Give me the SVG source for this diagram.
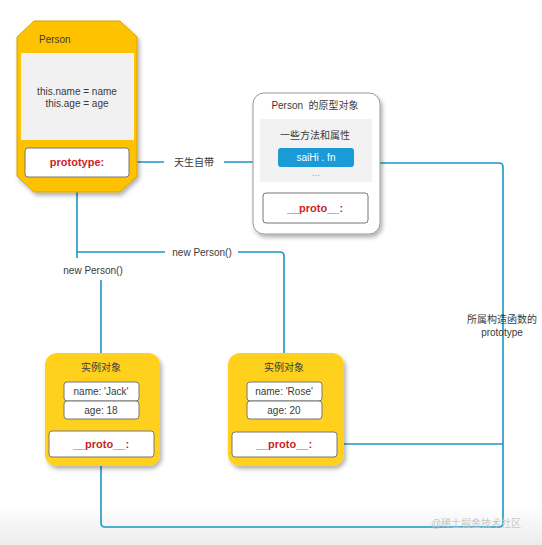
<svg xmlns="http://www.w3.org/2000/svg" width="542" height="545" viewBox="0 0 542 545">
<defs>
<filter id="sh" x="-20%" y="-20%" width="140%" height="140%">
<feDropShadow dx="2" dy="3" stdDeviation="2" flood-color="#000" flood-opacity="0.3"/>
</filter>
<linearGradient id="bg" x1="0" y1="0" x2="0" y2="1">
<stop offset="0" stop-color="#ffffff"/>
<stop offset="1" stop-color="#ececec"/>
</linearGradient>
<style>
text{font-family:"Liberation Sans","Noto Sans CJK SC",sans-serif;fill:#3a3a3a;font-size:10px;text-anchor:middle}
.red{fill:#CC1F1F;font-weight:bold;font-size:11px}
.wb{fill:#fff;stroke:#777;stroke-width:1}
.ln{fill:none;stroke:#1C96C3;stroke-width:1.6;stroke-linejoin:round}
</style>
</defs>
<rect x="0" y="0" width="542" height="545" fill="#fff"/>
<rect x="0" y="505" width="542" height="40" fill="url(#bg)"/>

<g id="connectors">
<path class="ln" d="M129,162 H164 M224,162 H253"/>
<path class="ln" d="M380,163 H499 Q503,163 503,167 V523 Q503,527 499,527 H105 Q101,527 101,523 V457"/>
<path class="ln" d="M337,444 H503"/>
<path class="ln" d="M77,192 V258"/>
<path class="ln" d="M101,280 V353"/>
<path class="ln" d="M77,252 H165 M238,252 H280 Q284,252 284,256 V353"/>
</g>

<g id="labels">
<text x="194" y="166" font-size="10">天生自带</text>
<text x="202" y="256">new Person()</text>
<text x="93" y="274">new Person()</text>
<text x="502" y="323" font-size="9.5">所属构造函数的</text>
<text x="502" y="336" font-size="9.5">prototype</text>
</g>

<g id="person">
<polygon points="34,21 120,21 137,37 137,176 120,192 34,192 17,176 17,37" fill="#FFC200" stroke="#D6A200" stroke-width="1" filter="url(#sh)"/>
<text x="39" y="43" style="text-anchor:start" font-size="10.5">Person</text>
<rect x="21" y="53" width="113" height="87" fill="#F1F1F1"/>
<text x="77" y="95">this.name = name</text>
<text x="77" y="107">this.age = age</text>
<rect class="wb" x="25" y="148" width="104" height="29" rx="3"/>
<text class="red" x="77" y="166">prototype:</text>
</g>

<g id="prototype-object">
<rect x="253" y="93" width="127" height="141" rx="11" fill="#fff" stroke="#999" stroke-width="1" filter="url(#sh)"/>
<text x="315" y="109" font-size="10.5">Person&#160; 的原型对象</text>
<rect x="260" y="119" width="112" height="63" fill="#F2F2F2"/>
<text x="315" y="139">一些方法和属性</text>
<rect x="278" y="148" width="76" height="19" rx="3" fill="#1A9AD6"/>
<text x="316" y="161" style="fill:#fff">saiHi . fn</text>
<text x="316" y="176" style="fill:#aaa" font-size="8">...</text>
<rect class="wb" x="263" y="193" width="105" height="30" rx="3"/>
<text class="red" x="315" y="212">__proto__:</text>
</g>

<g id="instance-jack">
<rect x="45" y="353" width="115" height="113" rx="12" fill="#FFD11C" filter="url(#sh)"/>
<text x="101" y="371">实例对象</text>
<rect class="wb" x="64" y="382" width="75" height="19" rx="3"/>
<text x="101" y="395">name: 'Jack'</text>
<rect class="wb" x="64" y="401" width="75" height="18" rx="3"/>
<text x="101" y="413.5">age: 18</text>
<rect class="wb" x="49" y="431" width="105" height="26" rx="3"/>
<text class="red" x="101" y="448">__proto__:</text>
</g>

<g id="instance-rose">
<rect x="228" y="353" width="116" height="113" rx="12" fill="#FFD11C" filter="url(#sh)"/>
<text x="284" y="371">实例对象</text>
<rect class="wb" x="247" y="382" width="75" height="19" rx="3"/>
<text x="284" y="395">name: 'Rose'</text>
<rect class="wb" x="247" y="401" width="75" height="18" rx="3"/>
<text x="284" y="413.5">age: 20</text>
<rect class="wb" x="232" y="432" width="105" height="25" rx="3"/>
<text class="red" x="284" y="448">__proto__:</text>
</g>

<text x="476" y="527" font-size="12.5" style="fill:#c8c8c8">@稀土掘金技术社区</text>
</svg>
